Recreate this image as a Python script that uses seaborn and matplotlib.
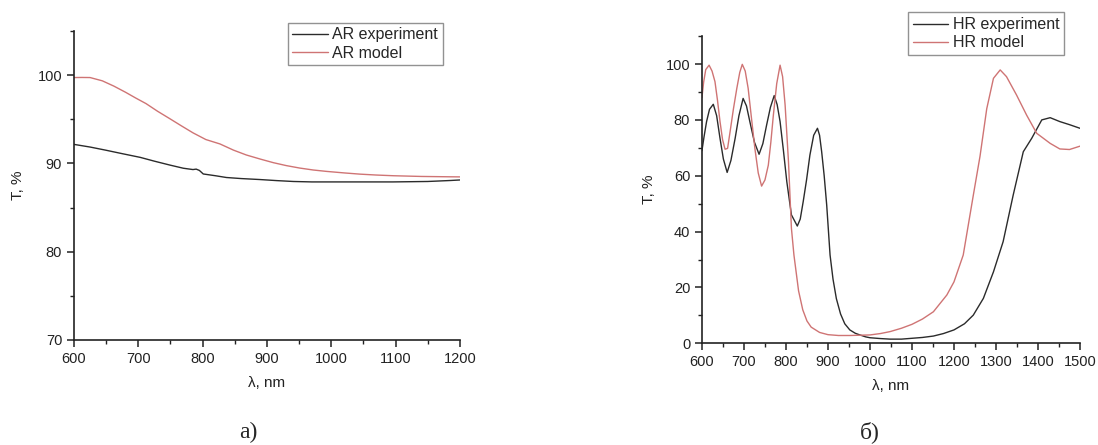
import matplotlib
matplotlib.use("Agg")
import matplotlib.pyplot as plt
import numpy as np
import pandas as pd
import seaborn as sns
from matplotlib.ticker import MultipleLocator

# AR coating: wavelength (nm) and transmission (%)
ar_exp_wl = [600, 625, 649, 675, 703, 725, 749, 770, 785, 790, 795, 801,
             820, 837, 860, 889, 915, 941, 970, 993, 1050, 1096, 1150, 1185, 1200]
ar_exp_t = [92.15, 91.85, 91.5, 91.1, 90.68, 90.25, 89.81, 89.45, 89.3, 89.35, 89.2, 88.8,
            88.6, 88.4, 88.28, 88.17, 88.05, 87.95, 87.9, 87.9, 87.9, 87.9, 87.95, 88.06, 88.12]

ar_mod_wl = [600, 612, 625, 644, 662, 680, 696, 712, 730, 749, 767, 785, 805,
             827, 848, 868, 890, 910, 930, 951, 972, 993, 1020, 1045, 1070,
             1097, 1140, 1185, 1200]
ar_mod_t = [99.72, 99.73, 99.72, 99.35, 98.75, 98.06, 97.4, 96.77, 95.9, 95.06, 94.25, 93.46, 92.7,
            92.2, 91.5, 90.95, 90.48, 90.08, 89.75, 89.47, 89.25, 89.09, 88.92, 88.78, 88.68,
            88.6, 88.52, 88.48, 88.47]

# HR coating
hr_exp_wl = [600, 605, 611, 618, 627, 635, 643, 651, 660, 669, 679, 688,
             698, 706, 714, 725, 736, 745, 754, 763, 772, 779, 786, 794,
             802, 813, 827, 834, 841, 849, 857, 866, 875, 880, 885, 891,
             897, 905, 912, 920, 930, 940, 952, 965, 976, 990, 1000, 1025,
             1048, 1075, 1100, 1125, 1151, 1175, 1200, 1225, 1246, 1270, 1294,
             1317, 1341, 1365, 1385, 1409, 1429, 1452, 1475, 1500]
hr_exp_t = [69.0, 74.0, 79.4, 83.8, 85.6, 81.5, 73.4, 66.0, 61.2, 65.5, 73.4, 81.5,
            87.7, 85.0, 79.4, 72.0, 67.7, 71.5, 78.2, 84.5, 88.7, 85.5, 79.4, 69.0,
            57.9, 46.0, 42.0, 44.5, 50.7, 58.5, 67.4, 74.5, 77.0, 74.5, 68.6, 60.0,
            49.5, 31.6, 23.0, 16.0, 10.5, 7.0, 4.8, 3.6, 3.0, 2.3, 2.0, 1.7,
            1.5, 1.5, 1.8, 2.1, 2.6, 3.5, 4.8, 7.0, 10.1, 16.1, 25.6,
            36.4, 53.1, 68.6, 73.4, 80.0, 80.8, 79.4, 78.3, 77.0]

hr_mod_wl = [600, 604, 609, 617, 624, 631, 637, 643, 649, 655, 661, 667,
             675, 683, 690, 696, 703, 710, 718, 726, 734, 742, 750, 758,
             764, 770, 778, 786, 792, 798, 806, 813, 819, 830, 840, 850,
             860, 880, 900, 925, 952, 975, 1000, 1025, 1048, 1075, 1100, 1125,
             1151, 1183, 1200, 1222, 1246, 1262, 1278, 1294, 1310, 1325, 1349,
             1373, 1397, 1429, 1452, 1475, 1500]
hr_mod_t = [88.0, 93.5, 98.0, 99.6, 97.5, 93.7, 87.0, 79.4, 73.0, 69.5, 69.8, 75.8,
            84.0, 91.3, 97.0, 99.9, 97.5, 91.3, 80.5, 69.8, 61.0, 56.3, 58.5, 63.8,
            72.0, 81.7, 93.0, 99.6, 95.5, 85.3, 65.0, 41.2, 31.6, 18.8, 12.0, 8.0,
            5.8, 3.9, 3.1, 2.8, 2.8, 2.9, 3.0, 3.5, 4.2, 5.4, 6.8, 8.7,
            11.3, 17.3, 22.0, 31.6, 53.0, 67.0, 84.0, 94.9, 97.9, 95.5, 88.9,
            81.7, 75.2, 71.6, 69.6, 69.4, 70.6]

exp_color = "#2b2b2b"
mod_color = "#cf7474"

sns.set_style("ticks")
plt.rcParams["font.family"] = ["Liberation Sans", "DejaVu Sans"]

fig = plt.figure(figsize=(10.98, 4.45), dpi=100)
ax1 = fig.add_axes([0.0674, 0.236, 0.3514, 0.6945])
ax2 = fig.add_axes([0.6393, 0.2285, 0.3443, 0.6903])


def make_df(wl_a, t_a, name_a, wl_b, t_b, name_b):
    a = pd.DataFrame({"wl": wl_a, "T": t_a, "series": name_a})
    b = pd.DataFrame({"wl": wl_b, "T": t_b, "series": name_b})
    return pd.concat([a, b], ignore_index=True)


def style_axis(ax, xlim, ylim, xmaj, ymaj, ypad):
    ax.set_xlim(*xlim)
    ax.set_ylim(*ylim)
    ax.xaxis.set_major_locator(MultipleLocator(xmaj))
    ax.xaxis.set_minor_locator(MultipleLocator(xmaj / 2))
    ax.yaxis.set_major_locator(MultipleLocator(ymaj))
    ax.yaxis.set_minor_locator(MultipleLocator(ymaj / 2))
    ax.tick_params(which="major", direction="out", length=5, width=1.1,
                   labelsize=10.5, color="#222222", labelcolor="#222222")
    ax.tick_params(which="minor", direction="out", length=3, width=1.0, color="#222222")
    for side in ("top", "right"):
        ax.spines[side].set_visible(False)
    for side in ("left", "bottom"):
        ax.spines[side].set_linewidth(1.2)
        ax.spines[side].set_color("#222222")
    ax.set_xlabel("λ, nm", fontsize=11, color="#222222", labelpad=7)
    ax.set_ylabel("T, %", fontsize=11, color="#222222", labelpad=ypad)


df_ar = make_df(ar_exp_wl, ar_exp_t, "AR experiment", ar_mod_wl, ar_mod_t, "AR model")
sns.lineplot(data=df_ar, x="wl", y="T", hue="series", ax=ax1, linewidth=1.0,
             palette={"AR experiment": exp_color, "AR model": mod_color}, sort=False)
style_axis(ax1, (600, 1200), (70, 105), 100, 10, 9)
ax1.legend(loc="upper right", bbox_to_anchor=(0.956, 1.027), borderaxespad=0,
           frameon=True, fancybox=False, edgecolor="#777777", fontsize=11.5,
           handlelength=2.2, handletextpad=0.3, borderpad=0.3, labelspacing=0.2,
           title=None).get_frame().set_linewidth(1.0)

df_hr = make_df(hr_exp_wl, hr_exp_t, "HR experiment", hr_mod_wl, hr_mod_t, "HR model")
sns.lineplot(data=df_hr, x="wl", y="T", hue="series", ax=ax2, linewidth=1.0,
             palette={"HR experiment": exp_color, "HR model": mod_color}, sort=False)
style_axis(ax2, (600, 1500), (0, 110), 100, 20, 7)
ax2.legend(loc="upper right", bbox_to_anchor=(0.958, 1.077), borderaxespad=0,
           frameon=True, fancybox=False, edgecolor="#777777", fontsize=11.5,
           handlelength=2.2, handletextpad=0.3, borderpad=0.3, labelspacing=0.2,
           title=None).get_frame().set_linewidth(1.0)

fig.text(248 / 1098, 1 - 432 / 445, "а)", ha="center", va="center",
         fontsize=17, family="Liberation Serif")
fig.text(870 / 1098, 1 - 432 / 445, "б)", ha="center", va="center",
         fontsize=17, family="Liberation Serif")

fig.savefig("out.png", dpi=100)
